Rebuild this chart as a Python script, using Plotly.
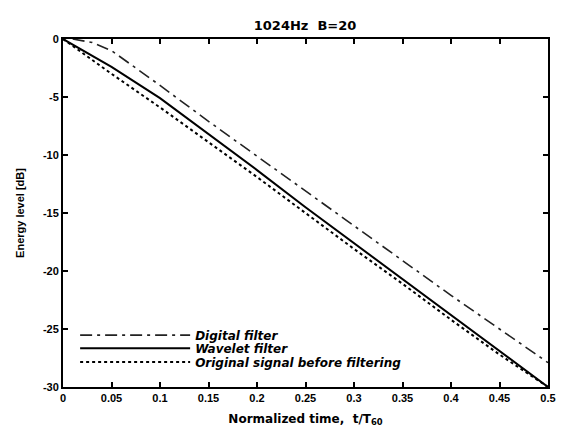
import plotly.graph_objects as go

t = [0.0, 0.05, 0.1, 0.15, 0.2, 0.25, 0.3, 0.35, 0.4, 0.45, 0.5]
t_digital = [0.01, 0.03, 0.05, 0.1, 0.15, 0.2, 0.25, 0.3, 0.35, 0.4, 0.45, 0.5]
digital = [0.0, -0.3, -1.0, -4.0, -7.1, -10.1, -13.1, -16.1, -19.1, -22.1, -25.0, -27.9]
wavelet = [0.0, -2.4, -5.1, -8.2, -11.3, -14.5, -17.6, -20.7, -23.8, -26.9, -30.0]
original = [0.0, -3.0, -5.9, -8.9, -11.9, -15.0, -18.1, -21.1, -24.2, -27.2, -30.0]

x_ticks = [0, 0.05, 0.1, 0.15, 0.2, 0.25, 0.3, 0.35, 0.4, 0.45, 0.5]
x_labels = ["0", "0.05", "0.1", "0.15", "0.2", "0.25", "0.3", "0.35", "0.4", "0.45", "0.5"]
y_ticks = [0, -5, -10, -15, -20, -25, -30]
y_labels = ["0", "-5", "-10", "-15", "-20", "-25", "-30"]

font = "Liberation Sans, Arial, sans-serif"
wide = "DejaVu Sans, Verdana, sans-serif"

fig = go.Figure()
fig.add_trace(go.Scatter(x=t_digital, y=digital, mode="lines", name="<b><i>Digital filter</i></b>",
                         line=dict(color="#222", width=1.6, dash="12px,5px,3px,5px"),
                         legend="legend"))
fig.add_trace(go.Scatter(x=t, y=wavelet, mode="lines", name="<b><i>Wavelet filter</i></b>",
                         line=dict(color="black", width=2), legend="legend2"))
fig.add_trace(go.Scatter(x=t, y=original, mode="lines", name="<b><i>Original signal before filtering</i></b>",
                         line=dict(color="black", width=2, dash="dot"), legend="legend3"))

axis_common = dict(showline=True, linecolor="black", linewidth=2, mirror="ticks",
                   ticks="inside", ticklen=5, tickwidth=2, tickcolor="black",
                   showgrid=False, zeroline=False, automargin=False,
                   tickfont=dict(family=font, size=11, color="black"))

leg_common = dict(x=0.025, xanchor="left", yanchor="middle", bgcolor="rgba(0,0,0,0)",
                  itemwidth=110, font=dict(size=12, family=wide, color="black"))

fig.update_layout(
    width=567, height=433,
    margin=dict(l=63, r=19, t=39, b=46),
    paper_bgcolor="white", plot_bgcolor="white",
    font=dict(family=font, color="black"),
    title=dict(text="<b>1024Hz  B=20</b>", x=0.538, xanchor="center",
               y=1 - 25 / 433, yanchor="middle", yref="container",
               font=dict(size=13, family=wide, color="black")),
    xaxis=dict(range=[0, 0.5], tickvals=x_ticks, ticktext=["<b>%s</b>" % s for s in x_labels],
               title=dict(text="<b>Normalized time,  t/T<sub>60</sub></b>", standoff=11,
                          font=dict(size=12, family=wide, color="black")),
               **axis_common),
    yaxis=dict(range=[-30, 0], tickvals=y_ticks, ticktext=["<b>%s</b>" % s for s in y_labels],
               title=dict(text="<b>Energy level [dB]</b>", standoff=16,
                          font=dict(size=11, family=font, color="black")),
               **axis_common),
    legend=dict(y=0.149, **leg_common),
    legend2=dict(y=0.111, **leg_common),
    legend3=dict(y=0.072, **leg_common),
    showlegend=True,
)

fig.write_html("out.html")
